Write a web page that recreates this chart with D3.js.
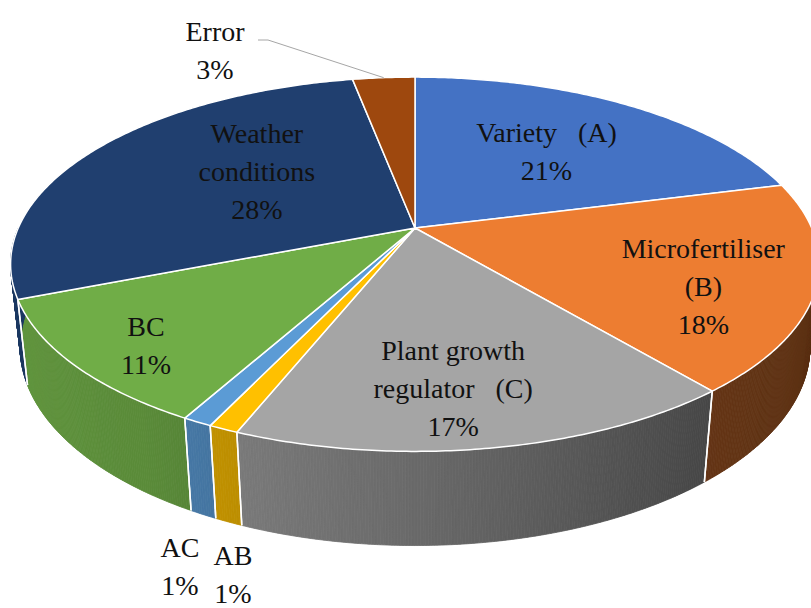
<!DOCTYPE html>
<html>
<head>
<meta charset="utf-8">
<script src="https://cdn.jsdelivr.net/npm/d3@7"></script>
<style>
  body { margin: 0; background: #fff; }
  svg { display: block; font-family: "Liberation Serif", serif; }
</style>
</head>
<body>
<svg width="811" height="608"></svg>
<script>
// data, clockwise from 12 o'clock
const categories = ['Variety (A)', 'Microfertiliser (B)', 'Plant growth regulator (C)', 'AB', 'AC', 'BC', 'Weather conditions', 'Error']
const shares = [21, 18, 17, 1, 1, 11, 28, 3]
const labelLines = [['Variety\u00a0\u00a0\u00a0(A)'], ['Microfertiliser', '(B)'], ['Plant growth', 'regulator\u00a0\u00a0\u00a0(C)'], ['AB'], ['AC'], ['BC'], ['Weather', 'conditions'], ['Error']]
const colors = ['#4472c4', '#ed7d31', '#a5a5a5', '#ffc000', '#5b9bd5', '#70ad47', '#203f6f', '#9e480e']

// where each label goes: r = radius fraction on the top face, or fixed spot outside
const placement = [
  {r: 0.58, dx: 2, dy: 0},
  {r: 0.75, dx: -8, dy: 15},
  {r: 0.7, dx: -12, dy: 17},
  {x: 233, y: 575},
  {x: 180, y: 567},
  {r: 0.81, dx: 0, dy: 10},
  {r: 0.475, dx: 0, dy: -17},
  {x: 215, y: 51}
]

const svg = d3.select('svg')
const CX = 415, CY = 228, K = 1825, DIST = 4.6, H = 0.2356
const PHI = 27 * Math.PI / 180
const sinP = Math.sin(PHI), cosP = Math.cos(PHI)
const FONT = 28, LH = 38

// perspective projection of a point on the disk (theta from 12 o'clock, clockwise)
function project(theta, r, y) {
  const x = r * Math.sin(theta), z = r * Math.cos(theta)
  const u = y * cosP + z * sinP
  const d = -y * sinP + z * cosP
  const s = K / (DIST + d)
  return [CX + x * s, CY - u * s]
}

function arcPoints(a0, a1, r, y) {
  const n = Math.max(2, Math.ceil(Math.abs(a1 - a0) / 0.01))
  return d3.range(n + 1).map(i => project(a0 + (a1 - a0) * i / n, r, y))
}

const arcs = d3.pie().sort(null).value(d => d)(shares)
const line = d3.line()

// shade of the side wall by angle (light from the left)
const shade = d3.scaleLinear()
  .domain([90, 140, 180, 215, 270].map(d => d * Math.PI / 180))
  .range([0.36, 0.42, 0.64, 0.8, 0.9])
  .clamp(true)

function darker(col, f) {
  const c = d3.rgb(col)
  return d3.rgb(c.r * f, c.g * f, c.b * f).formatHex()
}

// side walls (only front half can be seen)
const walls = svg.append('g')
const lo = Math.PI / 2, hi = 3 * Math.PI / 2
arcs.forEach(function (a, i) {
  const a0 = Math.max(a.startAngle, lo), a1 = Math.min(a.endAngle, hi)
  if (a1 <= a0) return
  const step = 0.006
  const n = Math.ceil((a1 - a0) / step)
  for (let j = 0; j < n; j++) {
    const t0 = a0 + (a1 - a0) * j / n, t1 = a0 + (a1 - a0) * (j + 1) / n
    const col = darker(colors[i], shade((t0 + t1) / 2))
    walls.append('path')
      .attr('d', line([project(t0, 1, 0), project(t1, 1, 0), project(t1, 1, -H), project(t0, 1, -H)]) + 'Z')
      .attr('fill', col)
      .attr('stroke', col)
      .attr('stroke-width', 0.8)
  }
})
// white seams between wall pieces
arcs.forEach(function (a) {
  [a.startAngle, a.endAngle].forEach(function (t) {
    if (t <= lo || t >= hi) return
    walls.append('path')
      .attr('d', line([project(t, 1, 0), project(t, 1, -H)]))
      .attr('stroke', '#fff')
      .attr('stroke-width', 1.5)
      .attr('fill', 'none')
  })
})

// top faces
svg.append('g')
  .selectAll('path')
  .data(arcs)
  .join('path')
  .attr('d', a => line([project(0, 0, 0)].concat(arcPoints(a.startAngle, a.endAngle, 1, 0))) + 'Z')
  .attr('fill', (a, i) => colors[i])
  .attr('stroke', '#fff')
  .attr('stroke-width', 1.5)
  .attr('stroke-linejoin', 'round')

// leader line for Error
const errArc = arcs[7]
const tip = project((errArc.startAngle + errArc.endAngle) / 2, 1, 0)
svg.append('path')
  .attr('d', line([[258, 40], [268, 40], tip]))
  .attr('fill', 'none')
  .attr('stroke', '#a6a6a6')
  .attr('stroke-width', 1)

// labels, one text per line
arcs.forEach(function (a, i) {
  const p = placement[i]
  let x, y
  if (p.r !== undefined) {
    const pt = project((a.startAngle + a.endAngle) / 2, p.r, 0)
    x = pt[0] + p.dx
    y = pt[1] + p.dy
  } else {
    x = p.x
    y = p.y
  }
  const lines = labelLines[i].concat([shares[i] + '%'])
  lines.forEach(function (s, k) {
    svg.append('text')
      .attr('x', x)
      .attr('y', y + (k - (lines.length - 1) / 2) * LH + FONT * 0.33)
      .attr('text-anchor', 'middle')
      .attr('font-size', FONT)
      .attr('fill', '#111')
      .style('font-family', '"Liberation Serif"')
      .text(s)
  })
})
</script>
</body>
</html>
